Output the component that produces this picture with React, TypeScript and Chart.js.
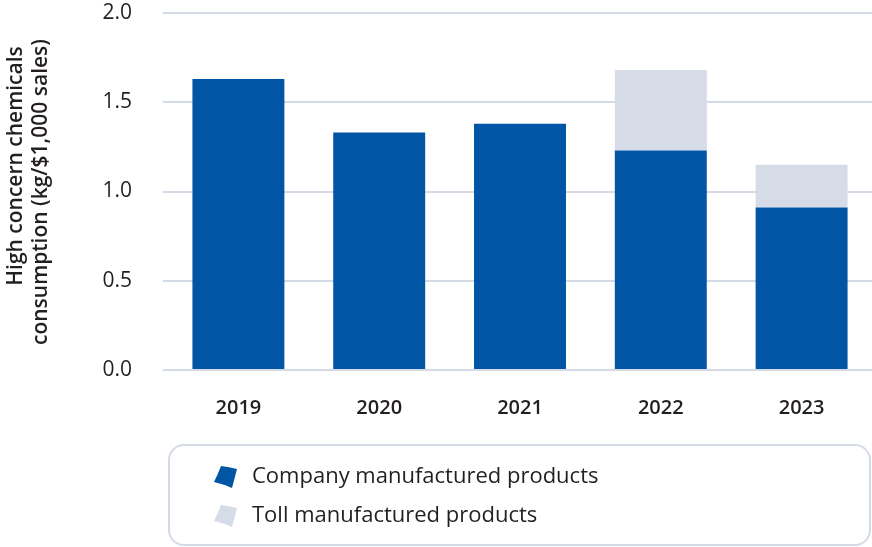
import React, { useEffect, useRef } from "react";
import { Chart, registerables } from "chart.js";

Chart.register(...registerables);

const years = ["2019", "2020", "2021", "2022", "2023"];
const companyValues = [1.63, 1.33, 1.38, 1.23, 0.91];
const tollValues = [0, 0, 0, 0.45, 0.24];
const yTitleLines = ["High concern chemicals", "consumption (kg/$1,000 sales)"];
const seriesLabels = ["Company manufactured products", "Toll manufactured products"];

const DARK = "#0055A5";
const LIGHT = "#D6DCE7";
const GRID = "#D5DBE6";
const TEXT = "#231F20";
const FONT = "'Open Sans', 'Noto Sans', sans-serif";

const titlePlugin = {
  id: "yTitle",
  afterDraw(chart: any) {
    const ctx = chart.ctx;
    ctx.save();
    ctx.fillStyle = TEXT;
    ctx.font = `600 21px ${FONT}`;
    ctx.textAlign = "center";
    ctx.textBaseline = "middle";
    const pos = [
      [16, 166],
      [41, 192],
    ];
    yTitleLines.forEach((t, i) => {
      ctx.save();
      ctx.translate(pos[i][0], pos[i][1]);
      ctx.rotate(-Math.PI / 2);
      ctx.fillText(t, 0, 0);
      ctx.restore();
    });
    ctx.restore();
  },
};

const legendPlugin = {
  id: "boxLegend",
  afterDraw(chart: any) {
    const ctx = chart.ctx;
    ctx.save();
    const x = 169, y = 445, w = 701, h = 100, r = 15;
    ctx.beginPath();
    ctx.moveTo(x + r, y);
    ctx.arcTo(x + w, y, x + w, y + h, r);
    ctx.arcTo(x + w, y + h, x, y + h, r);
    ctx.arcTo(x, y + h, x, y, r);
    ctx.arcTo(x, y, x + w, y, r);
    ctx.closePath();
    ctx.strokeStyle = GRID;
    ctx.lineWidth = 2;
    ctx.stroke();

    const rows = [477, 516];
    chart.data.datasets.forEach((ds: any, i: number) => {
      const cy = rows[i];
      ctx.fillStyle = ds.backgroundColor;
      ctx.beginPath();
      ctx.moveTo(221, cy - 11);
      ctx.quadraticCurveTo(229, cy - 10, 237, cy - 8);
      ctx.lineTo(232, cy + 11);
      ctx.quadraticCurveTo(223, cy + 7, 214, cy + 5);
      ctx.quadraticCurveTo(218, cy - 3, 221, cy - 11);
      ctx.closePath();
      ctx.fill();
      ctx.fillStyle = TEXT;
      ctx.font = `400 22px ${FONT}`;
      ctx.textAlign = "left";
      ctx.textBaseline = "middle";
      ctx.fillText(ds.label, 252, cy);
    });
    ctx.restore();
  },
};

export default function App() {
  const ref = useRef<HTMLCanvasElement>(null);
  useEffect(() => {
    document.body.style.margin = "0";
    const chart = new Chart(ref.current!, {
      type: "bar",
      data: {
        labels: years,
        datasets: [
          { label: seriesLabels[0], data: companyValues, backgroundColor: DARK, categoryPercentage: 1, barPercentage: 0.653 },
          { label: seriesLabels[1], data: tollValues, backgroundColor: LIGHT, categoryPercentage: 1, barPercentage: 0.653 },
        ],
      },
      options: {
        responsive: false,
        animation: false,
        layout: { padding: { top: 13, bottom: 117, left: 0, right: 0 } },
        plugins: { legend: { display: false }, tooltip: { enabled: false } },
        scales: {
          x: {
            stacked: true,
            grid: { display: false },
            border: { display: false },
            ticks: { padding: 18, color: TEXT, font: { family: FONT, size: 20, weight: 600 } },
            afterFit: (s: any) => { s.height = 60; },
          },
          y: {
            stacked: true,
            min: 0,
            max: 2,
            grid: { color: GRID, lineWidth: 2, drawTicks: true, tickLength: 5 },
            border: { display: false },
            ticks: {
              stepSize: 0.5,
              padding: 31,
              color: TEXT,
              font: { family: FONT, size: 21, weight: 400 },
              callback: (v: any) => Number(v).toFixed(1),
            },
            afterFit: (s: any) => { s.width = 168; s.paddingTop = 0; s.paddingBottom = 0; },
          },
        },
      },
      plugins: [titlePlugin, legendPlugin],
    });
    return () => chart.destroy();
  }, []);
  return (
    <div style={{ width: 872, height: 547 }}>
      <canvas ref={ref} width={872} height={547} />
    </div>
  );
}
